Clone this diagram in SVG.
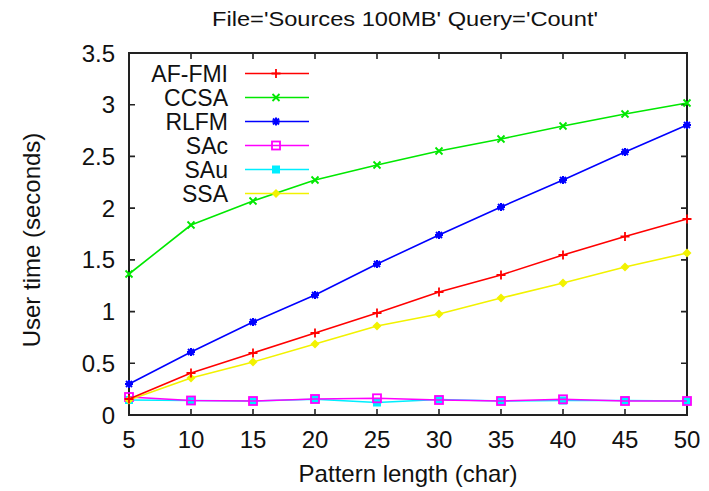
<svg xmlns="http://www.w3.org/2000/svg" xmlns:xlink="http://www.w3.org/1999/xlink" width="709" height="491" viewBox="0 0 709 491">
<style>
text{font-family:"Liberation Sans",Arial,sans-serif;fill:#111}
.t{font-size:24px}
.lg{font-size:23px;text-anchor:end}
.yl{text-anchor:end}
.xl{text-anchor:middle}
.frame{fill:none;stroke:#222;stroke-width:2}
.tick{stroke:#222;stroke-width:1.6}
.s{fill:none;stroke-width:1.6;stroke-linejoin:round}
</style>
<defs>
<g id="m-af"><path d="M-4.5 0H4.5M0 -4.5V4.5" stroke="#ff0000" stroke-width="1.8"/></g>
<g id="m-cc"><path d="M-3.5 -3.5L3.5 3.5M-3.5 3.5L3.5 -3.5" stroke="#00e800" stroke-width="1.8"/></g>
<g id="m-rl"><path d="M-4 0H4M0 -4V4M-3 -3L3 3M-3 3L3 -3" stroke="#0000ff" stroke-width="2"/></g>
<g id="m-sc"><rect x="-4" y="-4" width="8" height="8" fill="none" stroke="#ff00ff" stroke-width="1.8"/></g>
<g id="m-su"><rect x="-4" y="-4" width="8" height="8" fill="#00eeff"/></g>
<g id="m-ss"><path d="M0 -4.5L4.5 0L0 4.5L-4.5 0Z" fill="#f2f200"/></g>
</defs>
<rect width="709" height="491" fill="#fff"/>
<text id="title" x="212" y="26" style="font-size:21px" textLength="386" lengthAdjust="spacingAndGlyphs">File='Sources 100MB' Query='Count'</text>
<g id="axes">
<path class="tick" d="M191 415v-6M253 415v-6M315 415v-6M377 415v-6M439 415v-6M501 415v-6M563 415v-6M625 415v-6M191 53v6M253 53v6M315 53v6M377 53v6M439 53v6M501 53v6M563 53v6M625 53v6M129 363.3h6M129 311.6h6M129 259.9h6M129 208.1h6M129 156.4h6M129 104.7h6M687 363.3h-6M687 311.6h-6M687 259.9h-6M687 208.1h-6M687 156.4h-6M687 104.7h-6"/>
<rect class="frame" x="129" y="53" width="558" height="362"/>
<g class="t yl">
<text x="115" y="423.5">0</text>
<text x="115" y="371.8">0.5</text>
<text x="115" y="320.1">1</text>
<text x="115" y="268.4">1.5</text>
<text x="115" y="216.6">2</text>
<text x="115" y="164.9">2.5</text>
<text x="115" y="113.2">3</text>
<text x="115" y="61.5">3.5</text>
</g>
<g class="t xl">
<text x="129" y="448">5</text>
<text x="191" y="448">10</text>
<text x="253" y="448">15</text>
<text x="315" y="448">20</text>
<text x="377" y="448">25</text>
<text x="439" y="448">30</text>
<text x="501" y="448">35</text>
<text x="563" y="448">40</text>
<text x="625" y="448">45</text>
<text x="687" y="448">50</text>
</g>
<text class="t xl" x="408" y="482">Pattern length (char)</text>
<text class="t xl" x="40" y="240" transform="rotate(-90 40 240)">User time (seconds)</text>
</g>
<g id="series">
<g id="s-sau">
<polyline class="s" stroke="#00eeff" points="129,400 191,400.5 253,401 315,399.3 377,402.5 439,399.5 501,401 563,400.5 625,400.5 687,401"/>
<use xlink:href="#m-su" x="129" y="400"/><use xlink:href="#m-su" x="191" y="400.5"/><use xlink:href="#m-su" x="253" y="401"/><use xlink:href="#m-su" x="315" y="399.3"/><use xlink:href="#m-su" x="377" y="402.5"/><use xlink:href="#m-su" x="439" y="399.5"/><use xlink:href="#m-su" x="501" y="401"/><use xlink:href="#m-su" x="563" y="400.5"/><use xlink:href="#m-su" x="625" y="400.5"/><use xlink:href="#m-su" x="687" y="401"/>
</g>
<g id="s-sac">
<polyline class="s" stroke="#ff00ff" points="129,397 191,400.5 253,401 315,399 377,398.3 439,400 501,401 563,399.3 625,401 687,401"/>
<use xlink:href="#m-sc" x="129" y="397"/><use xlink:href="#m-sc" x="191" y="400.5"/><use xlink:href="#m-sc" x="253" y="401"/><use xlink:href="#m-sc" x="315" y="399"/><use xlink:href="#m-sc" x="377" y="398.3"/><use xlink:href="#m-sc" x="439" y="400"/><use xlink:href="#m-sc" x="501" y="401"/><use xlink:href="#m-sc" x="563" y="399.3"/><use xlink:href="#m-sc" x="625" y="401"/><use xlink:href="#m-sc" x="687" y="401"/>
</g>
<g id="s-ssa">
<polyline class="s" stroke="#f2f200" points="129,400 191,378 253,362 315,344 377,326 439,314 501,298 563,283 625,267 687,253"/>
<use xlink:href="#m-ss" x="129" y="400"/><use xlink:href="#m-ss" x="191" y="378"/><use xlink:href="#m-ss" x="253" y="362"/><use xlink:href="#m-ss" x="315" y="344"/><use xlink:href="#m-ss" x="377" y="326"/><use xlink:href="#m-ss" x="439" y="314"/><use xlink:href="#m-ss" x="501" y="298"/><use xlink:href="#m-ss" x="563" y="283"/><use xlink:href="#m-ss" x="625" y="267"/><use xlink:href="#m-ss" x="687" y="253"/>
</g>
<g id="s-af">
<polyline class="s" stroke="#ff0000" points="129,399 191,373 253,353 315,333 377,313 439,292 501,275 563,255 625,236.5 687,219"/>
<use xlink:href="#m-af" x="129" y="399"/><use xlink:href="#m-af" x="191" y="373"/><use xlink:href="#m-af" x="253" y="353"/><use xlink:href="#m-af" x="315" y="333"/><use xlink:href="#m-af" x="377" y="313"/><use xlink:href="#m-af" x="439" y="292"/><use xlink:href="#m-af" x="501" y="275"/><use xlink:href="#m-af" x="563" y="255"/><use xlink:href="#m-af" x="625" y="236.5"/><use xlink:href="#m-af" x="687" y="219"/>
</g>
<g id="s-rl">
<polyline class="s" stroke="#0000ff" points="129,384 191,352 253,322 315,295 377,264 439,235 501,207 563,180 625,152 687,125"/>
<use xlink:href="#m-rl" x="129" y="384"/><use xlink:href="#m-rl" x="191" y="352"/><use xlink:href="#m-rl" x="253" y="322"/><use xlink:href="#m-rl" x="315" y="295"/><use xlink:href="#m-rl" x="377" y="264"/><use xlink:href="#m-rl" x="439" y="235"/><use xlink:href="#m-rl" x="501" y="207"/><use xlink:href="#m-rl" x="563" y="180"/><use xlink:href="#m-rl" x="625" y="152"/><use xlink:href="#m-rl" x="687" y="125"/>
</g>
<g id="s-cc">
<polyline class="s" stroke="#00e800" points="129,274 191,225 253,201 315,180 377,165 439,151 501,139 563,126 625,114 687,103"/>
<use xlink:href="#m-cc" x="129" y="274"/><use xlink:href="#m-cc" x="191" y="225"/><use xlink:href="#m-cc" x="253" y="201"/><use xlink:href="#m-cc" x="315" y="180"/><use xlink:href="#m-cc" x="377" y="165"/><use xlink:href="#m-cc" x="439" y="151"/><use xlink:href="#m-cc" x="501" y="139"/><use xlink:href="#m-cc" x="563" y="126"/><use xlink:href="#m-cc" x="625" y="114"/><use xlink:href="#m-cc" x="687" y="103"/>
</g>
</g>
<g id="legend">
<g class="lg">
<text x="228" y="82">AF-FMI</text>
<text x="228" y="106">CCSA</text>
<text x="228" y="130">RLFM</text>
<text x="228" y="154">SAc</text>
<text x="228" y="178">SAu</text>
<text x="228" y="202">SSA</text>
</g>
<path class="s" stroke="#ff0000" d="M245 73.5H309"/><use xlink:href="#m-af" x="276" y="73.5"/>
<path class="s" stroke="#00e800" d="M245 97.5H309"/><use xlink:href="#m-cc" x="276" y="97.5"/>
<path class="s" stroke="#0000ff" d="M245 121.5H309"/><use xlink:href="#m-rl" x="276" y="121.5"/>
<path class="s" stroke="#ff00ff" d="M245 145.5H309"/><use xlink:href="#m-sc" x="276" y="145.5"/>
<path class="s" stroke="#00eeff" d="M245 169.5H309"/><use xlink:href="#m-su" x="276" y="169.5"/>
<path class="s" stroke="#f2f200" d="M245 193.5H309"/><use xlink:href="#m-ss" x="276" y="193.5"/>
</g>
</svg>
